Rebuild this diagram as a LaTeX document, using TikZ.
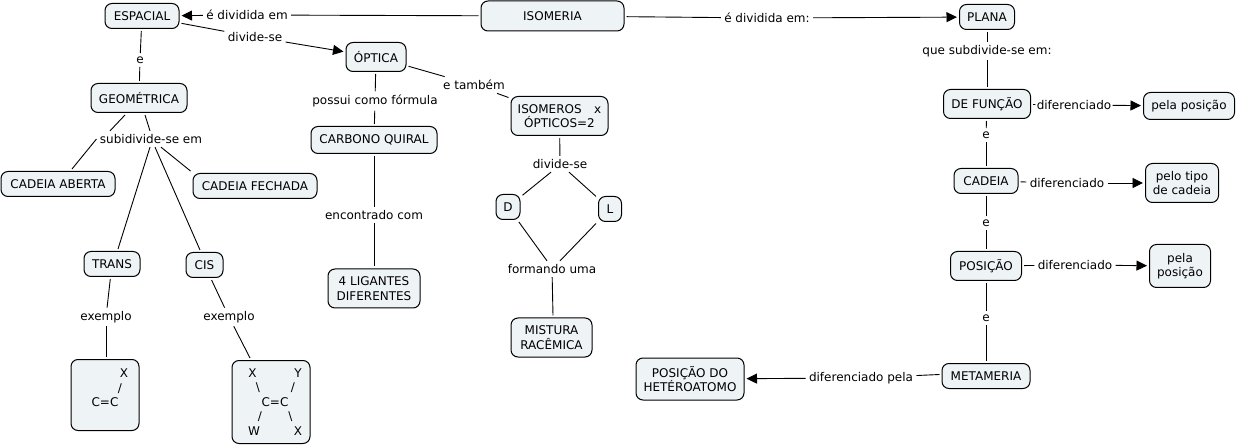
\documentclass[tikz,border=0pt]{standalone}
\usepackage{fontspec}
\setmainfont{DejaVu Sans}
\usetikzlibrary{arrows.meta}
\definecolor{conceptfill}{HTML}{EEF3F6}
\tikzset{
    every node/.style={font=\fontsize{12}{14.5}\selectfont, align=center}
}
\tikzset{
    concept/.style={draw, fill=conceptfill, rounded corners=7pt, inner sep=0pt,
    	outer sep=2.5pt, line width=1pt}
}
\tikzset{
    link/.style={inner sep=0pt, outer sep=3.5pt}
}
\tikzset{
    every edge/.append style={line width=0.9pt}
}
\tikzset{
    linkarrow/.style={-{Triangle[length=10.5pt,width=10pt]}}
}
\newcommand{\placed}[2]{\makebox[0pt]{\hspace{#1}#2}}

\begin{document}
\begin{tikzpicture}[x=1pt, y=-1pt]
	\useasboundingbox (0,0) rectangle (1237,446);
	\node (isomeria) [concept, minimum width=143pt, minimum height=30pt] at (552.5,16) {ISOMERIA};
	\node (espacial) [concept, minimum width=74pt, minimum height=25pt] at (142,16) {ESPACIAL};
	\node (plana) [concept, minimum width=55pt, minimum height=25pt] at (987,17) {PLANA};
	\node (optica) [concept, minimum width=60pt, minimum height=29pt] at (376,57) {ÓPTICA};
	\node (geometrica) [concept, minimum width=96pt, minimum height=29pt] at (139,98) {GEOMÉTRICA};
	\node (aberta) [concept, minimum width=114pt, minimum height=25pt] at (58,184) {CADEIA ABERTA};
	\node (fechada) [concept, minimum width=124pt, minimum height=25pt] at (255,186) {CADEIA FECHADA};
	\node (carbono) [concept, minimum width=126pt, minimum height=27pt] at (374,140) {CARBONO QUIRAL};
	\node (trans) [concept, minimum width=56pt, minimum height=25pt] at (112,264) {TRANS};
	\node (cis) [concept, minimum width=37pt, minimum height=25pt] at (204.5,265) {CIS};
	\node (transbox) [concept, minimum width=68pt, minimum height=71pt] at (105,395)
		{\placed{38pt}{X}\\\placed{30pt}{/}\\C=C\\\mbox{}};
	\node (cisbox) [concept, minimum width=78pt, minimum height=83pt] at (271,402)
		{\placed{-37pt}{X}\placed{54pt}{Y}\\\placed{-26pt}{\textbackslash}\placed{44pt}{/}\\\placed{8pt}{C=C}\\\placed{-22pt}{/}\placed{39pt}{\textbackslash}\\\placed{-34pt}{W}\placed{54pt}{X}};
	\node (ligantes) [concept, minimum width=92pt, minimum height=39pt] at (374,288.5) {4 LIGANTES\\DIFERENTES};
	\node (isomeros) [concept, minimum width=97pt, minimum height=39pt] at (559.5,116) {ISOMEROS\hspace{12.5pt}x\\ÓPTICOS=2};
	\node (d) [concept, minimum width=24pt, minimum height=25pt] at (508,207) {D};
	\node (l) [concept, minimum width=23pt, minimum height=25pt] at (610,209) {L};
	\node (mistura) [concept, minimum width=81pt, minimum height=39pt] at (551.5,337.5) {MISTURA\\RACÊMICA};
	\node (funcao) [concept, minimum width=87pt, minimum height=29pt] at (987,104) {DE FUNÇÃO};
	\node (posfuncao) [concept, minimum width=91pt, minimum height=27pt] at (1189,106) {pela posição};
	\node (cadeia) [concept, minimum width=64pt, minimum height=25pt] at (986,181) {CADEIA};
	\node (tipo) [concept, minimum width=73pt, minimum height=39pt] at (1182,183) {pelo tipo\\de cadeia};
	\node (posicao) [concept, minimum width=71pt, minimum height=29pt] at (986,266) {POSIÇÃO};
	\node (pospela) [concept, minimum width=61pt, minimum height=43pt] at (1180,266) {pela\\posição};
	\node (metameria) [concept, minimum width=88pt, minimum height=25pt] at (986,376) {METAMERIA};
	\node (heteroatomo) [concept, minimum width=108pt, minimum height=42pt] at (690,379) {POSIÇÃO DO\\HETÉROATOMO};

	\node (l1) [link] at (247,15) {é dividida em};
	\node (l2) [link] at (255,37) {divide-se};
	\node (l3) [link] at (140,60) {e};
	\node (l4) [link] at (151,139) {subidivide-se em};
	\node (l5) [link] at (375,101) {possui como fórmula};
	\node (l6) [link] at (474,85) {e também};
	\node (l7) [link] at (560,164) {divide-se};
	\node (l8) [link] at (374,215) {encontrado com};
	\node (l9) [link] at (106,317) {exemplo};
	\node (l10) [link] at (229,317) {exemplo};
	\node (l11) [link] at (552,269) {formando uma};
	\node (l12) [link] at (767,18) {é dividida em:};
	\node (l13) [link] at (987,51) {que subdivide-se em:};
	\node (l14) [link, outer sep=1.5pt] at (1074,105) {diferenciado};
	\node (l15) [link] at (986,135) {e};
	\node (l16) [link] at (1067,183) {diferenciado};
	\node (l17) [link] at (986,223) {e};
	\node (l18) [link] at (1075,265) {diferenciado};
	\node (l19) [link] at (986,318) {e};
	\node (l20) [link] at (861,378) {diferenciado pela};

	\draw (isomeria) edge (l1); \draw (l1) edge [linkarrow] (espacial);
	\draw (espacial) edge (l2); \draw (l2) edge [linkarrow] (optica);
	\draw (espacial) edge (l3); \draw (l3) edge (geometrica);
	\draw ([xshift=-14pt]geometrica.south) edge ([xshift=-41pt]l4.north);
	\draw ([xshift=6pt]geometrica.south) edge ([xshift=-1pt]l4.north);
	\draw (l4.west) edge ([xshift=14pt]aberta.north);
	\draw ([xshift=-1pt]l4.south) edge ([xshift=6pt]trans.north);
	\draw ([xshift=4pt]l4.south) edge ([xshift=-4.5pt]cis.north);
	\draw ([xshift=10pt]l4.south) edge (fechada.north west);
	\draw (optica) edge (l5); \draw (l5) edge (carbono);
	\draw (optica) edge (l6); \draw (l6) edge (isomeros);
	\draw (carbono) edge (l8); \draw (l8) edge (ligantes);
	\draw (trans) edge (l9); \draw (l9) edge ([xshift=1pt]transbox.north);
	\draw (cis) edge (l10); \draw (l10) edge ([xshift=-21pt]cisbox.north);
	\draw (isomeros) edge (l7); \draw ([xshift=-9pt]l7.south) edge (d); \draw ([xshift=9pt]l7.south) edge (l);
	\draw (d) edge ([xshift=-5pt]l11.north); \draw (l) edge ([xshift=8pt]l11.north);
	\draw (l11) edge ([xshift=1.5pt]mistura.north);
	\draw (isomeria) edge (l12); \draw (l12) edge [linkarrow] (plana);
	\draw (plana) edge (l13); \draw (l13) edge (funcao);
	\draw (funcao) edge (l14); \draw (l14) edge [linkarrow] (posfuncao);
	\draw (funcao) edge (l15); \draw (l15) edge (cadeia);
	\draw (cadeia) edge (l16); \draw (l16) edge [linkarrow] (tipo);
	\draw (cadeia) edge (l17); \draw (l17) edge (posicao);
	\draw (posicao) edge (l18); \draw (l18) edge [linkarrow] (pospela);
	\draw (posicao) edge (l19); \draw (l19) edge (metameria);
	\draw ([yshift=1.5pt]metameria.west) edge (l20); \draw (l20) edge [linkarrow] (heteroatomo);
\end{tikzpicture}
\end{document}
